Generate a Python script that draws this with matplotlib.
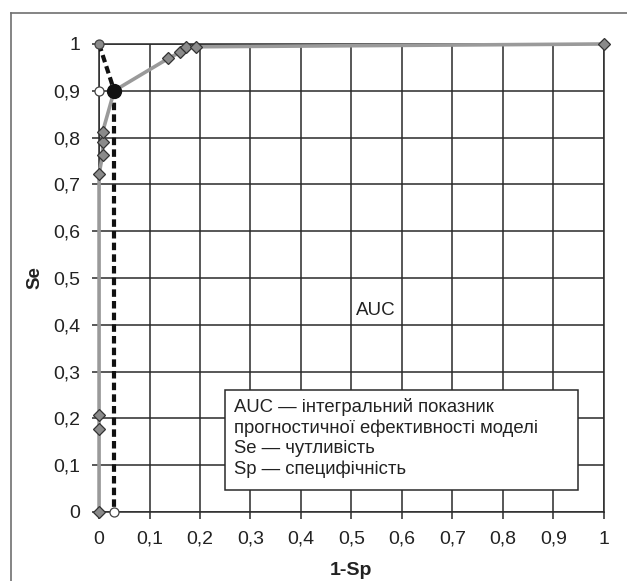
import matplotlib
matplotlib.use("Agg")
import matplotlib.pyplot as plt
from matplotlib.patches import Rectangle
from matplotlib.lines import Line2D

plt.rcParams['font.family'] = ['Liberation Sans', 'DejaVu Sans']

# ROC curve points (1-Sp, Se)
roc_x = [0, 0, 0, 0, 0.007, 0.007, 0.007, 0.03, 0.137, 0.160, 0.172, 0.193, 1.0]
roc_y = [0, 0.177, 0.207, 0.722, 0.763, 0.79, 0.812, 0.90, 0.969, 0.982, 0.994, 0.994, 1.0]
diamond_x = [0, 0, 0, 0, 0.007, 0.007, 0.007, 0.137, 0.160, 0.172, 0.193, 1.0]
diamond_y = [0, 0.177, 0.207, 0.722, 0.763, 0.79, 0.812, 0.969, 0.982, 0.994, 0.994, 1.0]
opt_x, opt_y = 0.03, 0.90
ideal = (0, 1)

ticks = [i / 10 for i in range(11)]
tick_labels = ['0'] + [f"0,{i}" for i in range(1, 10)] + ['1']

fig = plt.figure(figsize=(6.27, 5.81), dpi=100)
ax = fig.add_axes([0.158, 0.1188, 0.805, 0.8055])
ax.set_xlim(0, 1)
ax.set_ylim(0, 1)

ax.set_xticks(ticks)
ax.set_yticks(ticks)
ax.set_xticklabels(tick_labels, fontsize=14)
ax.set_yticklabels(tick_labels, fontsize=14)
ax.grid(True, color='#2a2a2a', linewidth=1.1)
ax.set_axisbelow(True)
for s in ax.spines.values():
    s.set_color('#2a2a2a')
    s.set_linewidth(1.1)
ax.tick_params(length=5, width=1.1, color='#2a2a2a', pad=8.5, labelcolor='#222222')

# dashed lines to optimal point
ax.plot([ideal[0], opt_x], [ideal[1], opt_y], ls=(0, (1.8, 1.0)), color='#111111', lw=3, zorder=3, clip_on=False)
ax.plot([opt_x, opt_x], [opt_y, 0], ls=(0, (1.8, 1.0)), color='#111111', lw=3, zorder=3, clip_on=False)

# ROC line
ax.plot(roc_x, roc_y, color='#9a9a9a', lw=2.6, zorder=4, clip_on=False, solid_capstyle='butt')
ax.plot(diamond_x, diamond_y, ls='none', marker='D', ms=6.3, mfc='#8a8a8a', mec='#333333', mew=0.9,
        zorder=5, clip_on=False)

# circles
ax.plot([ideal[0]], [ideal[1]], 'o', ms=6.5, mfc='#8a8a8a', mec='#444444', mew=0.9, zorder=6, clip_on=False)
ax.plot([0], [opt_y], 'o', ms=6.5, mfc='white', mec='#444444', mew=0.9, zorder=6, clip_on=False)
ax.plot([opt_x], [0], 'o', ms=6.5, mfc='white', mec='#444444', mew=0.9, zorder=6, clip_on=False)
ax.plot([opt_x], [opt_y], 'o', ms=10, mfc='#111111', mec='#111111', zorder=7, clip_on=False)

ax.text(0.548, 0.43, 'AUC', fontsize=13.5, ha='center', va='center', zorder=8, color='#222222')

# legend box
ax.add_patch(Rectangle((0.25, 0.047), 0.698, 0.213, facecolor='white', edgecolor='#2a2a2a',
                       lw=1.1, zorder=8))
lines = ["AUC — інтегральний показник",
         "прогностичної ефективності моделі",
         "Se — чутливість",
         "Sp — специфічність"]
for i, t in enumerate(lines):
    ax.text(0.268, 0.224 - i * 0.0445, t, fontsize=13.3, ha='left', va='center', zorder=9,
            color='#222222')

ax.set_xlabel('1-Sp', fontsize=14, fontweight='bold', color='#222222')
ax.set_ylabel('Se', fontsize=13.5, fontweight='bold', color='#222222')
ax.xaxis.set_label_coords(0.5, -0.107)
ax.yaxis.set_label_coords(-0.11, 0.5)

# partial outer frame (left and top edges)
x0 = 11 / 627
y0 = 1 - 13 / 581
fig.lines.append(Line2D([x0, x0], [0, y0], transform=fig.transFigure, color='#707070', lw=1.2))
fig.lines.append(Line2D([x0, 1], [y0, y0], transform=fig.transFigure, color='#707070', lw=1.2))

fig.savefig('out.png', dpi=100)
